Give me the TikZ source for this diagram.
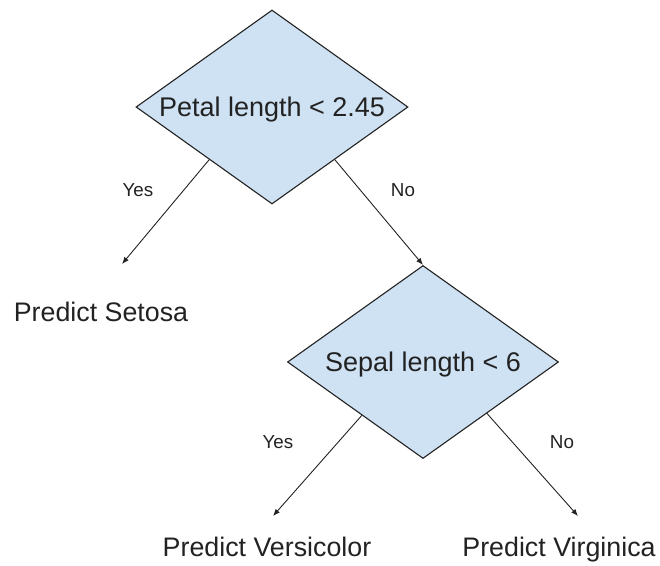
\documentclass[tikz,border=0pt]{standalone}
\usepackage{fontspec}
\setmainfont{Liberation Sans}
\usetikzlibrary{shapes.geometric,arrows.meta,calc}
\definecolor{boxfill}{HTML}{CFE2F3}
\definecolor{ink}{HTML}{222222}
\begin{document}
\begin{tikzpicture}[x=1pt,y=-1pt,
  decision/.style={diamond, draw=ink, line width=1.1pt, fill=boxfill, aspect=1.4,
    inner sep=0pt, text depth=0pt, font=\fontsize{27}{31}\selectfont, text=ink},
  leaf/.style={font=\fontsize{26.8}{31}\selectfont, text=ink, anchor=base},
  lbl/.style={font=\fontsize{18.8}{22}\selectfont, text=ink},
  conn/.style={draw=ink, line width=0.9pt, -{Latex[length=7pt,width=5.5pt]}}]
\useasboundingbox (0,0) rectangle (660,565);

\node[decision, minimum width=272pt, minimum height=194pt] (d1) at (272,107) {Petal length < 2.45};
\node[decision, minimum width=271pt, minimum height=193pt] (d2) at (423,362) {Sepal length < 6};

\node[leaf] (setosa) at (101,321.5) {Predict Setosa};
\node[leaf] (versi) at (267,556.5) {Predict Versicolor};
\node[leaf] (virgi) at (559,556.5) {Predict Virginica};

\node[lbl] (y1) at (138,190) {Yes};
\node[lbl] (n1) at (403,190) {No};
\node[lbl] (y2) at (278,442) {Yes};
\node[lbl] (n2) at (562,442) {No};

\coordinate (s1) at ($(d1.west)!0.54!(d1.south)$);
\coordinate (e1) at (122,264);
\coordinate (s2) at ($(d1.south)!0.46!(d1.east)$);
\coordinate (s3) at ($(d2.west)!0.55!(d2.south)$);
\coordinate (e3) at (273,516);
\coordinate (s4) at ($(d2.south)!0.47!(d2.east)$);
\coordinate (e4) at (578,516);

\draw[conn] (s1) -- (e1);
\draw[conn] (s2) -- (d2.north);
\draw[conn] (s3) -- (e3);
\draw[conn] (s4) -- (e4);
\end{tikzpicture}
\end{document}
